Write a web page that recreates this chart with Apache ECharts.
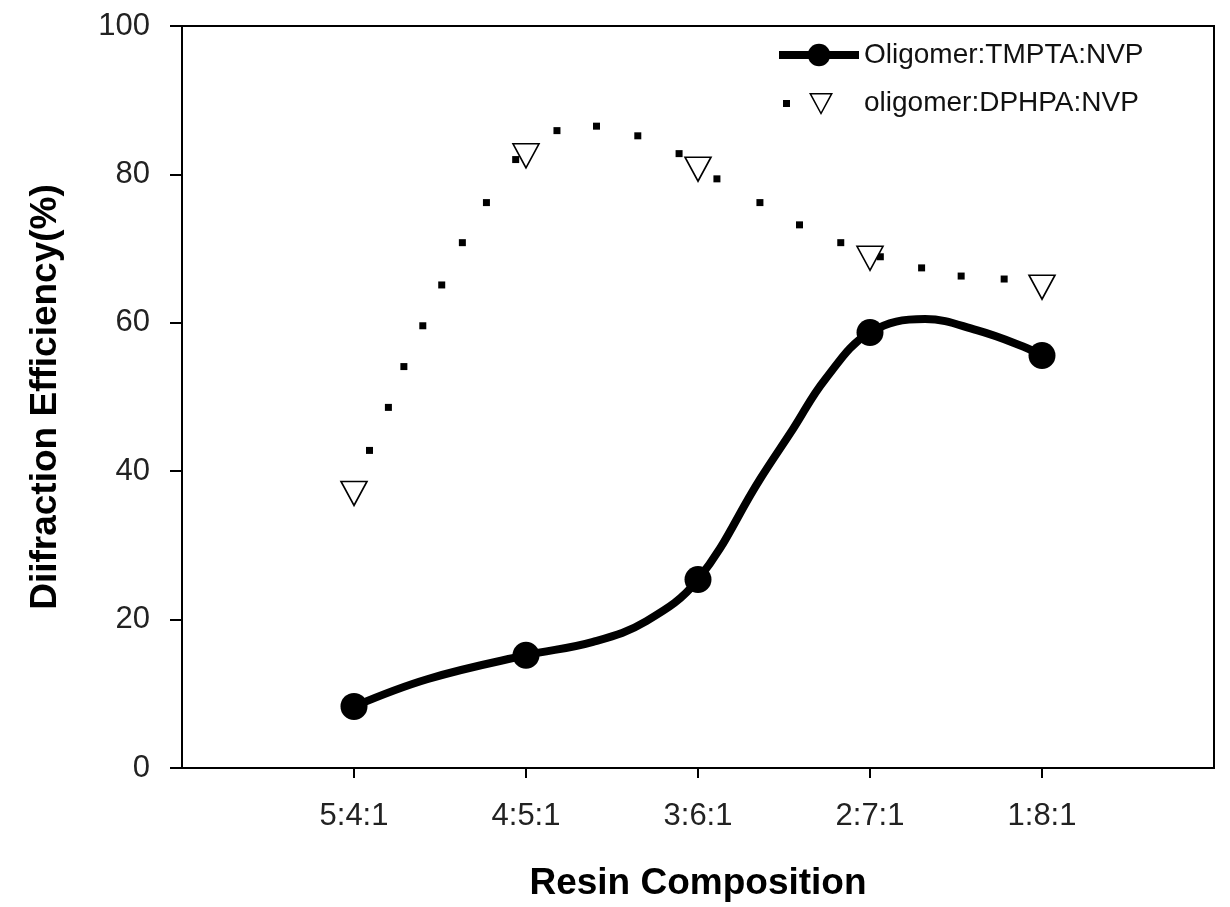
<!DOCTYPE html>
<html>
<head>
<meta charset="utf-8">
<script src="https://cdn.jsdelivr.net/npm/echarts@6/dist/echarts.min.js"></script>
<style>
  html, body { margin: 0; padding: 0; background: #fff; }
  #chart { width: 1230px; height: 907px; }
</style>
</head>
<body>
<div id="chart"></div>
<script>
// categories on the x axis (placed at 1..5 on a 0..6 value axis)
var categories = ['5:4:1', '4:5:1', '3:6:1', '2:7:1', '1:8:1'];

var tmptaValues = [8.3, 15.2, 25.4, 58.7, 55.6];
var dphpaValues = [37.0, 82.5, 80.7, 68.7, 64.8];

// extra points along the drawn smooth curve of TMPTA, [x, y]
var tmptaCurve = [
    [1.43, 12.0], [2.39, 17.0], [2.70, 19.8],
    [3.36, 38.9], [3.55, 45.6], [3.74, 52.4],
    [4.32, 60.5], [4.62, 59.0], [4.89, 56.8]
];

// dots of the dotted DPHPA fit curve, [x, y]
var dphpaDots = [
    [1.09, 42.8], [1.20, 48.6], [1.29, 54.1], [1.40, 59.6], [1.51, 65.1],
    [1.63, 70.8], [1.77, 76.2], [1.94, 82.0], [2.18, 85.9], [2.41, 86.5],
    [2.65, 85.2], [2.89, 82.8], [3.11, 79.4], [3.36, 76.2], [3.59, 73.2],
    [3.83, 70.8], [4.06, 68.9], [4.30, 67.4], [4.53, 66.3], [4.78, 65.9]
];

var nameA = 'Oligomer:TMPTA:NVP';
var nameB = 'oligomer:DPHPA:NVP';
var font = 'Liberation Sans';

// merge markers and curve points, markers get the circle
var tmptaData = [];
for (let i = 0; i < tmptaValues.length; i++) {
    tmptaData.push({ value: [i + 1, tmptaValues[i]] });
}
for (let i = 0; i < tmptaCurve.length; i++) {
    tmptaData.push({ value: tmptaCurve[i], symbol: 'none' });
}
tmptaData.sort(function (a, b) { return a.value[0] - b.value[0]; });

var dphpaData = dphpaValues.map(function (v, i) { return [i + 1, v]; });

var option = {
    animation: false,
    backgroundColor: '#fff',
    grid: {
        left: 182, right: 16, top: 26, bottom: 139,
        show: true,
        borderColor: '#000',
        borderWidth: 2
    },
    legend: {
        orient: 'vertical',
        left: 775,
        top: 41,
        padding: 0,
        itemWidth: 80,
        itemHeight: 28,
        itemGap: 20,
        textStyle: { fontSize: 28, fontFamily: font, color: '#111' },
        data: [
            { name: nameA, lineStyle: { width: 8, color: '#000' } },
            {
                name: nameB,
                icon: 'path://M0 0L0 0ZM80 28L80 28ZM4 11h7v7h-7ZM30 4L54 4L42 26ZM32.6 5.5L42 23L51.4 5.5Z',
                itemStyle: { color: '#000', borderWidth: 0, opacity: 1 }
            }
        ]
    },
    xAxis: {
        type: 'value',
        min: 0,
        max: 6,
        interval: 1,
        name: 'Resin Composition',
        nameLocation: 'middle',
        nameGap: 97,
        nameTextStyle: { fontSize: 37, fontWeight: 'bold', fontFamily: font, color: '#000' },
        axisLine: { lineStyle: { color: '#000', width: 2 } },
        axisTick: { length: 10, lineStyle: { color: '#000', width: 2 }, customValues: [1, 2, 3, 4, 5] },
        axisLabel: {
            margin: 33,
            fontSize: 31,
            fontFamily: font,
            color: '#222',
            customValues: [1, 2, 3, 4, 5],
            formatter: function (val) {
                return categories[val - 1] || '';
            }
        },
        splitLine: { show: false }
    },
    yAxis: {
        type: 'value',
        min: 0,
        max: 100,
        interval: 20,
        name: 'Diifraction Efficiency(%)',
        nameLocation: 'middle',
        nameGap: 118,
        nameTextStyle: { fontSize: 37, fontWeight: 'bold', fontFamily: font, color: '#000' },
        axisLine: { show: true, lineStyle: { color: '#000', width: 2 } },
        axisTick: { show: true, length: 12, lineStyle: { color: '#000', width: 2 } },
        axisLabel: { margin: 32, fontSize: 31, fontFamily: font, color: '#222' },
        splitLine: { show: false }
    },
    series: [
        {
            name: nameA,
            type: 'line',
            data: tmptaData,
            smooth: 0.4,
            symbol: 'circle',
            symbolSize: 27,
            showAllSymbol: true,
            itemStyle: { color: '#000' },
            lineStyle: { color: '#000', width: 8 },
            z: 3
        },
        {
            name: nameB,
            type: 'scatter',
            data: dphpaDots,
            symbol: 'rect',
            symbolSize: 7,
            itemStyle: { color: '#000', opacity: 1 },
            z: 2
        },
        {
            name: nameB,
            type: 'scatter',
            data: dphpaData,
            symbol: 'triangle',
            symbolRotate: 180,
            symbolSize: [26, 24],
            itemStyle: { color: '#fff', borderColor: '#000', borderWidth: 1.6, opacity: 1 },
            z: 4
        }
    ]
};

var chart = echarts.init(document.getElementById('chart'));
chart.setOption(option);
</script>
</body>
</html>
